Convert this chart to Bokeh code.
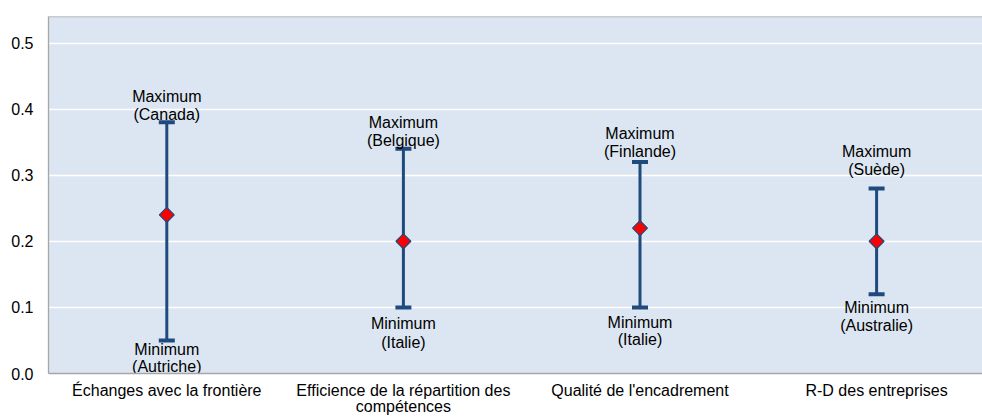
import numpy as np
from bokeh.plotting import figure
from bokeh.models import (ColumnDataSource, Range1d, FixedTicker, Span,
                          Whisker, TeeHead, NumeralTickFormatter)
from bokeh.core.properties import value
from bokeh.embed import file_html
from bokeh.resources import INLINE

categories = ["Échanges avec la frontière",
              "Efficience de la répartition des\ncompétences",
              "Qualité de l'encadrement",
              "R-D des entreprises"]
mean_vals = [0.24, 0.20, 0.22, 0.20]
max_vals = [0.38, 0.34, 0.32, 0.28]
min_vals = [0.05, 0.10, 0.10, 0.12]
max_countries = ["(Canada)", "(Belgique)", "(Finlande)", "(Suède)"]
min_countries = ["(Autriche)", "(Italie)", "(Italie)", "(Australie)"]
y_ticks = [0.0, 0.1, 0.2, 0.3, 0.4, 0.5]

# label placement (screen pixels, style only)
max_off_1 = [-26, -26.6, -29, -37]
max_off_2 = [-7.7, -8.3, -10.6, -18.5]
min_off_1 = [9.5, 15.6, 14.6, 13.4]
min_off_2 = [26.5, 34.6, 32.3, 31.4]

FONT = "Liberation Sans"
FS = "16px"
BLUE = "#1F4A7E"
GRAY = "#A6A6A6"

xs = [i + 0.5 for i in range(len(categories))]
src = ColumnDataSource(dict(x=xs, mean=mean_vals, upper=max_vals, lower=min_vals,
                            maxc=max_countries, minc=min_countries,
                            maxw=["Maximum"] * 4, minw=["Minimum"] * 4,
                            mo1=max_off_1, mo2=max_off_2, no1=min_off_1, no2=min_off_2))

p = figure(width=982, height=417, output_backend="svg", toolbar_location=None,
           x_range=Range1d(0, 934 / 236.6), y_range=Range1d(0, 0.5402),
           min_border_left=48, min_border_right=0, min_border_top=16, min_border_bottom=20,
           background_fill_color="#DCE6F2", border_fill_color="white")
p.outline_line_color = None
p.xgrid.grid_line_color = None
p.ygrid.grid_line_color = "white"
p.ygrid.grid_line_width = 1.3
p.ygrid.ticker = FixedTicker(ticks=y_ticks)

# y axis
ya = p.yaxis[0]
ya.ticker = FixedTicker(ticks=y_ticks)
ya.formatter = NumeralTickFormatter(format="0.0")
ya.major_tick_out = 0
ya.major_tick_in = 0
ya.minor_tick_out = 0
ya.minor_tick_in = 0
ya.axis_line_color = GRAY
ya.axis_line_width = 1.3
ya.major_label_standoff = 15
ya.major_label_text_font = FONT
ya.major_label_text_font_size = FS
ya.major_label_text_color = "black"

# x axis (bottom)
xa = p.xaxis[0]
xa.ticker = FixedTicker(ticks=xs)
xa.major_label_overrides = {x: c for x, c in zip(xs, categories)}
xa.major_tick_out = 0
xa.major_tick_in = 0
xa.minor_tick_out = 0
xa.minor_tick_in = 0
xa.axis_line_color = GRAY
xa.axis_line_width = 1.3
xa.major_label_standoff = 8
xa.major_label_text_font = FONT
xa.major_label_text_font_size = FS
xa.major_label_text_line_height = 0.95
xa.major_label_text_color = "black"

# top border
p.add_layout(Span(location=0.5402, dimension="width", line_color=GRAY, line_width=1.3))

# whiskers
w = Whisker(base="x", upper="upper", lower="lower", source=src,
            line_color=BLUE, line_width=3,
            upper_head=TeeHead(size=16, line_color=BLUE, line_width=4),
            lower_head=TeeHead(size=16, line_color=BLUE, line_width=4))
p.add_layout(w)

# mean diamonds
p.scatter(x="x", y="mean", source=src, marker="square", size=10.5, angle=np.pi / 4,
          fill_color="#FF0000", line_color=BLUE, line_width=1.3)

tkw = dict(text_align="center", text_baseline="middle", text_font=value(FONT),
           text_font_size=value(FS), text_color="black")
p.text(x="x", y="upper", text="maxw", y_offset="mo1", source=src, **tkw)
p.text(x="x", y="upper", text="maxc", y_offset="mo2", source=src, **tkw)
p.text(x="x", y="lower", text="minw", y_offset="no1", source=src, **tkw)
p.text(x="x", y="lower", text="minc", y_offset="no2", source=src, **tkw)

open("out.html", "w").write(file_html(p, INLINE))
